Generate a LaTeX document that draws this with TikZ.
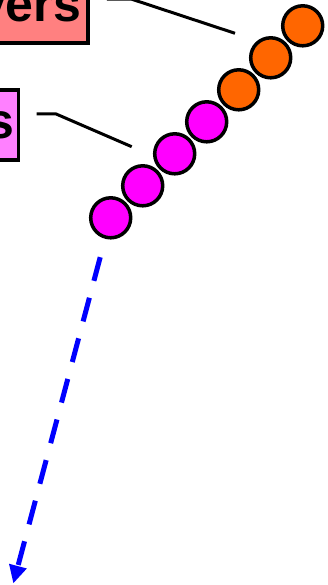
\documentclass[tikz,border=0pt]{standalone}
\usepackage{fontspec}
\newfontfamily\lblfont{Liberation Sans}
\usepackage{xcolor}
\definecolor{colRx}{HTML}{FF8080}
\definecolor{colTx}{HTML}{FF80FF}
\definecolor{colOrange}{HTML}{FF6600}
\definecolor{colMagenta}{HTML}{FF00FF}
\usepackage{tikz}
\usetikzlibrary{arrows.meta, positioning, calc}

\tikzset{
  lblbox/.style={draw=black, line width=3.5pt, minimum height=70pt, inner ysep=0pt,
    font=\lblfont\bfseries\fontsize{50}{60}\selectfont, anchor=south east},
  ring/.style={circle, draw=black, line width=3.5pt, fill=#1, minimum size=40pt, inner sep=0pt},
  leader/.style={line width=3pt, line join=miter},
  flow/.style={blue, line width=5pt, dash pattern=on 24.5pt off 17.5pt,
    -{Triangle[length=18pt, width=17pt]}}
}

\begin{document}
\begin{tikzpicture}[x=1pt, y=-1pt]
				\useasboundingbox (0,0) rectangle (327,585);
				% labels
				\node[lblbox, fill=colRx, inner xsep=7pt] (rxlbl) at (89.75,44.95) {vers};
				\node[lblbox, fill=colTx, inner xsep=4pt] (txlbl) at (20.2,162) {s};
				% chain of elements
				\foreach \i/\col in {1/colOrange, 2/colOrange, 3/colOrange, 4/colMagenta, 5/colMagenta, 6/colMagenta, 7/colMagenta}
					\node[ring=\col] (c\i) at ({302.7-32*(\i-1)}, {25.8+32*(\i-1)}) {};
				% leader lines
				\coordinate (rxend) at (235,33.3);
				\coordinate (txend) at (131.7,146.7);
				\draw[leader] ([shift={(17,-9)}]rxlbl.east) -- ++(25,0) -- (rxend);
				\draw[leader] ([shift={(16.5,-11.3)}]txlbl.east) -- ++(19.3,0) -- (txend);
				% outgoing flow
				\coordinate (flowend) at (13.3,583.5);
				\draw[flow, shorten <=19pt] (c7) -- (flowend);
			\end{tikzpicture}
\end{document}
